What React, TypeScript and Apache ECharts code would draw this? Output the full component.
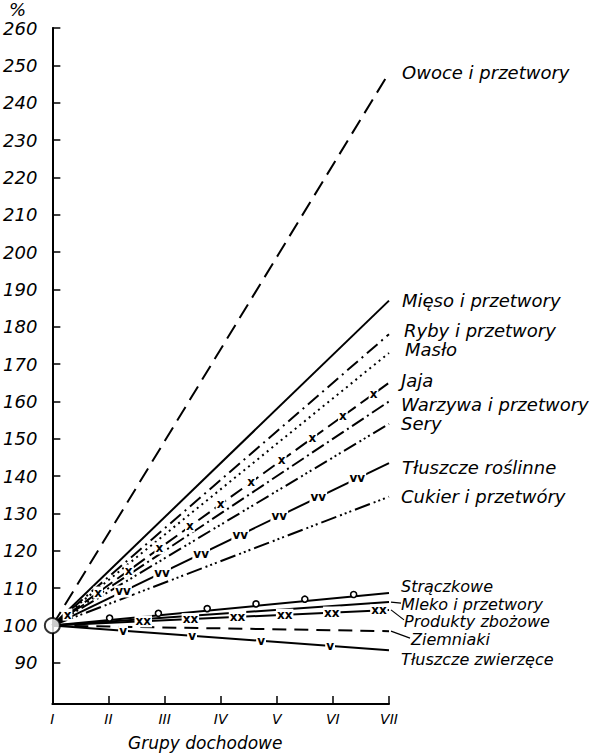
import React, { useEffect, useRef } from "react";
import * as echarts from "echarts";

const categories = ["I", "II", "III", "IV", "V", "VI", "VII"];
const yTicks = [90, 100, 110, 120, 130, 140, 150, 160, 170, 180, 190, 200, 210, 220, 230, 240, 250, 260];
const baseValue = 100;
const seriesNames = [
  "Owoce i przetwory",
  "Mięso i przetwory",
  "Ryby i przetwory",
  "Masło",
  "Jaja",
  "Warzywa i przetwory",
  "Sery",
  "Tłuszcze roślinne",
  "Cukier i przetwóry",
  "Strączkowe",
  "Mleko i przetwory",
  "Produkty zbożowe",
  "Ziemniaki",
  "Tłuszcze zwierzęce",
];
const endValues = [248, 187, 178, 173, 165, 160, 154, 143.5, 134.5, 108.7, 106.3, 104.2, 98.5, 93.4];

const FONT = "DejaVu Sans";

type Marker = { glyph: string; start: number; step: number; count: number };
type Style = { dash: any; marker?: Marker; offset: [number, number]; leader?: [number, number]; size: number };

const styles: Style[] = [
  { dash: [16, 8], offset: [3, 0], size: 18 },
  { dash: "solid", offset: [3, 0], size: 18 },
  { dash: [14, 5, 2, 5], offset: [5, -4], size: 18 },
  { dash: [2, 4], offset: [6, -3], size: 18 },
  { dash: [14, 6], marker: { glyph: "x", start: 0.045, step: 0.0909, count: 11 }, offset: [2, -2], size: 18 },
  { dash: [14, 4, 2, 4], offset: [2, 3], size: 18 },
  { dash: [14, 4, 2, 3, 2, 3, 2, 4], offset: [2, 0], size: 18 },
  { dash: "solid", marker: { glyph: "vv", start: 0.21, step: 0.116, count: 7 }, offset: [3, 4], size: 18 },
  { dash: [16, 4, 2, 3, 2, 3, 2, 4], offset: [2, 0], size: 18 },
  { dash: "solid", marker: { glyph: "o", start: 0.17, step: 0.145, count: 6 }, offset: [2, -7], size: 16 },
  { dash: "solid", offset: [2, 2], leader: [12, 1], size: 16 },
  { dash: "solid", marker: { glyph: "xx", start: 0.27, step: 0.14, count: 6 }, offset: [5, 12], leader: [15, 10], size: 16 },
  { dash: [14, 8], offset: [12, 8], leader: [21, 7], size: 16 },
  { dash: "solid", marker: { glyph: "v", start: 0.21, step: 0.205, count: 4 }, offset: [2, 9], size: 16 },
];

export default function App() {
  const ref = useRef<HTMLDivElement>(null);
  useEffect(() => {
    document.body.style.margin = "0";
    const chart = echarts.init(ref.current!, null, { renderer: "svg" });
    const lineSeries = seriesNames.map((name, i) => ({
      type: "line",
      name,
      data: [baseValue, null, null, null, null, null, endValues[i]],
      connectNulls: true,
      showSymbol: false,
      symbol: "none",
      lineStyle: { color: "#000", width: 2, type: styles[i].dash },
      endLabel: {
        show: true,
        formatter: "{a}",
        color: "#000",
        fontSize: styles[i].size,
        fontStyle: "italic",
        fontFamily: FONT,
        distance: 10,
        offset: styles[i].offset,
      },
      z: 2,
    }));
    const decoSeries = {
      type: "custom",
      data: endValues.map((v, i) => [6, v, i]),
      z: 3,
      silent: true,
      renderItem: (params: any, api: any) => {
        const idx = api.value(2);
        const st = styles[idx];
        const p0 = api.coord([0, baseValue]);
        const p1 = api.coord([6, api.value(1)]);
        const children: any[] = [];
        if (st.marker) {
          const m = st.marker;
          for (let k = 0; k < m.count; k++) {
            const t = m.start + k * m.step;
            const x = p0[0] + (p1[0] - p0[0]) * t;
            const y = p0[1] + (p1[1] - p0[1]) * t;
            if (m.glyph === "o") {
              children.push({
                type: "circle",
                shape: { cx: x, cy: y - 2, r: 3 },
                style: { fill: "#fff", stroke: "#000", lineWidth: 1.6 },
              });
            } else {
              children.push({
                type: "text",
                x,
                y,
                style: {
                  text: m.glyph,
                  fontSize: 12,
                  fontWeight: "bold",
                  fontFamily: FONT,
                  fill: "#000",
                  align: "center",
                  verticalAlign: "middle",
                  backgroundColor: "#fff",
                  padding: [0, 1],
                },
              });
            }
          }
        }
        if (st.leader) {
          children.push({
            type: "line",
            shape: { x1: p1[0] + 2, y1: p1[1], x2: p1[0] + st.leader[0], y2: p1[1] + st.leader[1] },
            style: { stroke: "#000", lineWidth: 1.2 },
          });
        }
        return { type: "group", children };
      },
    };
    const originSeries = {
      type: "scatter",
      data: [[0, baseValue]],
      symbol: "circle",
      symbolSize: 15,
      itemStyle: { color: "#fff", borderColor: "#000", borderWidth: 2 },
      z: 4,
      silent: true,
    };
    chart.setOption({
      animation: false,
      backgroundColor: "#fff",
      grid: { left: 52, right: 213, top: 28, bottom: 50 },
      xAxis: {
        type: "category",
        data: categories,
        boundaryGap: false,
        axisLine: { show: true, lineStyle: { color: "#000", width: 2 } },
        axisTick: { show: true, inside: true, length: 8, interval: 0, lineStyle: { color: "#000", width: 1.5 } },
        axisLabel: { color: "#000", fontSize: 14, fontStyle: "italic", fontFamily: FONT, margin: 8, interval: 0 },
        splitLine: { show: false },
      },
      yAxis: {
        type: "value",
        min: 79,
        max: 260,
        axisLine: { show: true, lineStyle: { color: "#000", width: 2 } },
        axisTick: { show: true, inside: true, length: 8, customValues: yTicks, lineStyle: { color: "#000", width: 1.5 } },
        axisLabel: { customValues: yTicks, color: "#000", fontSize: 18, fontStyle: "italic", fontFamily: FONT, margin: 15 },
        splitLine: { show: false },
      },
      graphic: [
        { type: "text", left: 9, top: 0, style: { text: "%", fontSize: 18, fontStyle: "italic", fontFamily: FONT, fill: "#000" } },
        { type: "text", left: 128, top: 734, style: { text: "Grupy dochodowe", fontSize: 17, fontStyle: "italic", fontFamily: FONT, fill: "#000" } },
      ],
      series: [...lineSeries, decoSeries, originSeries],
    });
    return () => chart.dispose();
  }, []);
  return <div ref={ref} style={{ width: 602, height: 754 }} />;
}
